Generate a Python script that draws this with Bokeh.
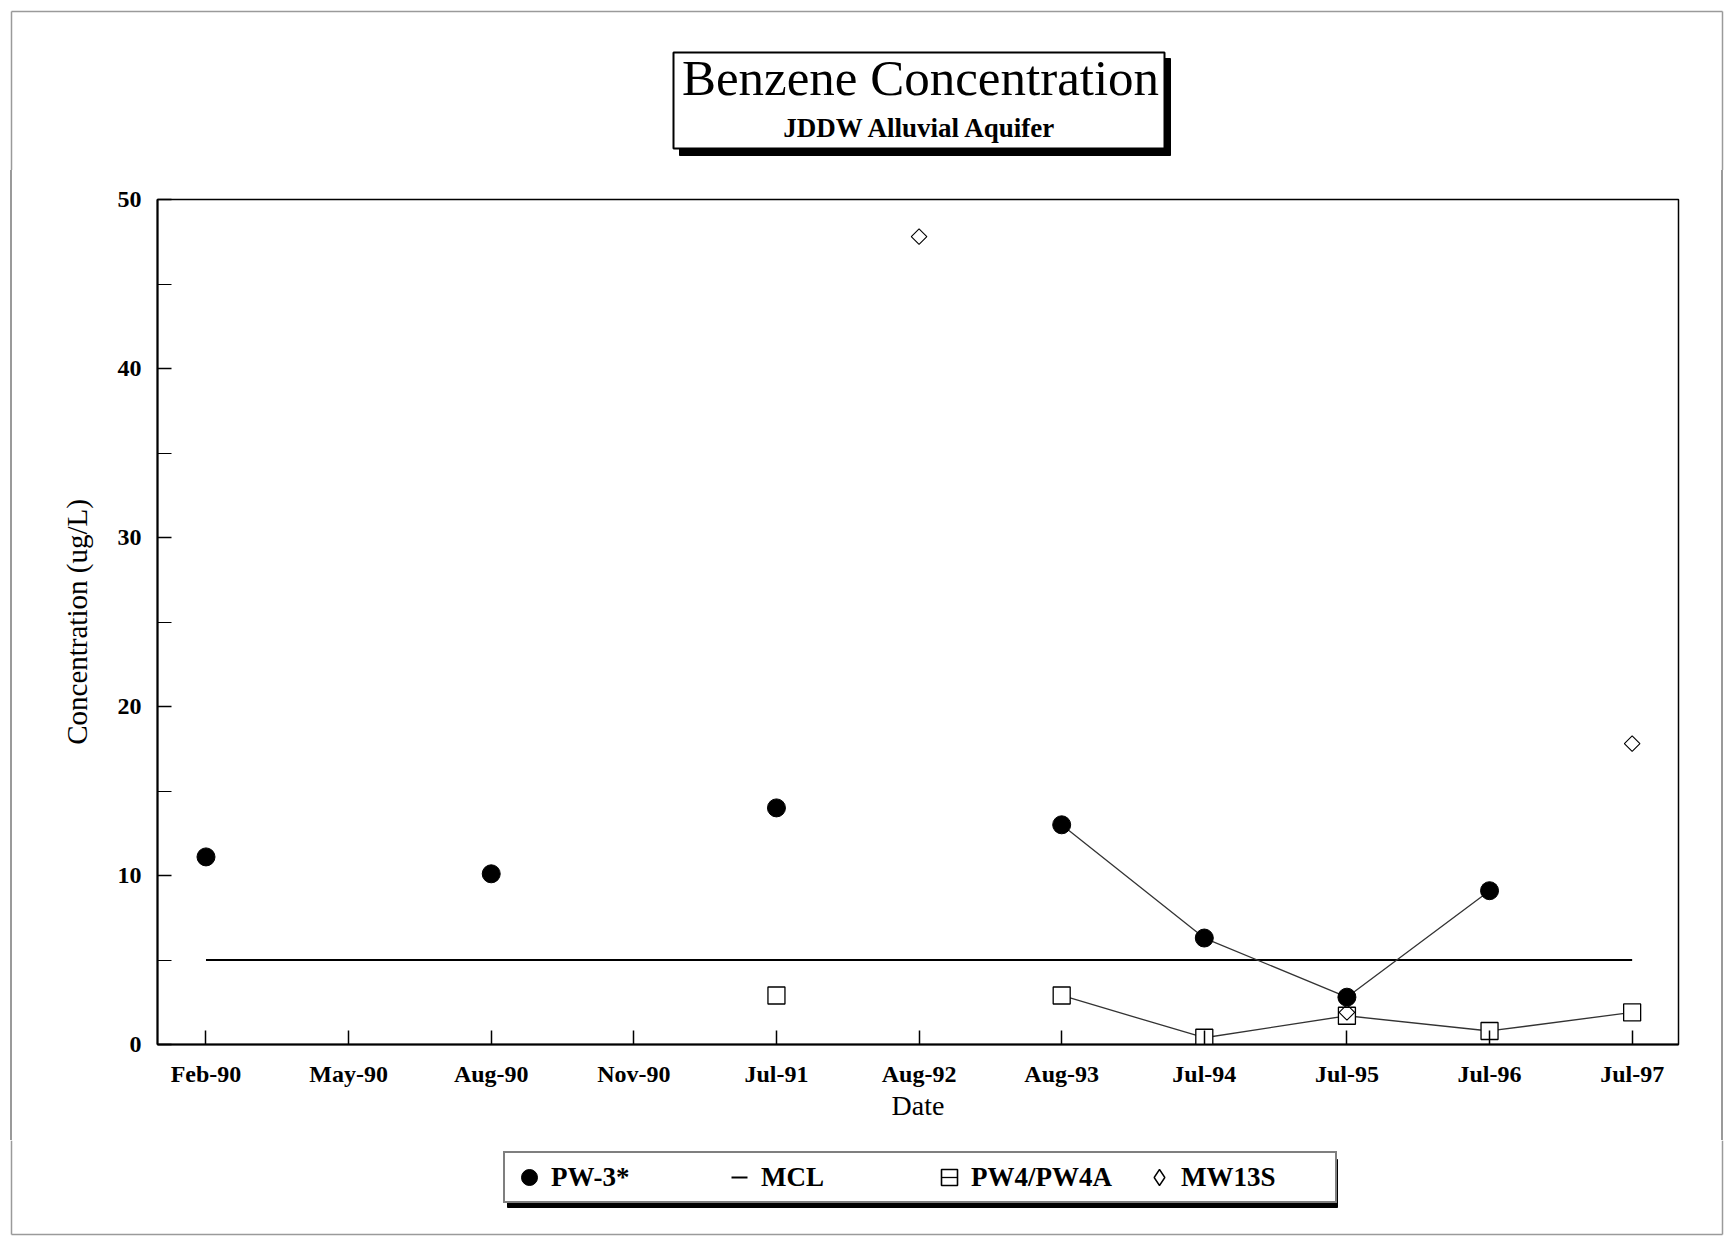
import math
from bokeh.plotting import figure
from bokeh.layouts import column, row
from bokeh.models import Range1d, FixedTicker, Legend, LegendItem, Spacer
from bokeh.core.properties import value
from bokeh.embed import file_html
from bokeh.resources import INLINE

# ---------------- data ----------------
categories = ["Feb-90", "May-90", "Aug-90", "Nov-90", "Jul-91", "Aug-92",
              "Aug-93", "Jul-94", "Jul-95", "Jul-96", "Jul-97"]
y_major_ticks = [0, 10, 20, 30, 40, 50]
y_minor_ticks = [5, 15, 25, 35, 45]

pw3_dates = ["Feb-90", "Aug-90", "Jul-91", "Aug-93", "Jul-94", "Jul-95", "Jul-96"]
pw3_values = [11.1, 10.1, 14.0, 13.0, 6.3, 2.8, 9.1]
pw3_line_dates = ["Aug-93", "Jul-94", "Jul-95", "Jul-96"]

pw4_dates = ["Jul-91", "Aug-93", "Jul-94", "Jul-95", "Jul-96", "Jul-97"]
pw4_values = [2.9, 2.9, 0.4, 1.7, 0.8, 1.9]
pw4_line_dates = ["Aug-93", "Jul-94", "Jul-95", "Jul-96", "Jul-97"]

mw13s_dates = ["Aug-92", "Jul-95", "Jul-97"]
mw13s_values = [47.8, 1.9, 17.8]

mcl_dates = ["Feb-90", "Jul-97"]
mcl_values = [5.0, 5.0]

title_text = "Benzene Concentration"
subtitle_text = "JDDW Alluvial Aquifer"
legend_labels = ["PW-3*", "MCL", "PW4/PW4A", "MW13S"]

FONT = "Liberation Serif"
W = 1724
TOP_H, MAIN_H, BOT_H = 170, 970, 96
STRIP_L, STRIP_R = 20, 24
BORDER = "#9a9a9a"


def xpos(dates):
    return [categories.index(d) for d in dates]


def sub(dates, values, keep):
    lut = dict(zip(dates, values))
    return xpos(keep), [lut[d] for d in keep]


def blank(width, height):
    f = figure(width=width, height=height, output_backend="svg", toolbar_location=None,
               x_range=Range1d(0, width), y_range=Range1d(height, 0),
               x_axis_type=None, y_axis_type=None, min_border=0,
               background_fill_color="white", border_fill_color="white")
    f.grid.visible = False
    f.outline_line_color = None
    return f


def vstrip(width, xline, height):
    grad = ("linear-gradient(to right, transparent {a}px, {c} {a}px, {c} {b}px, "
            "transparent {b}px)").format(a=xline - 0.75, b=xline + 0.75, c=BORDER)
    return Spacer(width=width, height=height,
                  styles={"background": grad, "background-color": "white"})


# ---------------- title strip ----------------
pt = blank(W, TOP_H)
pt.segment(x0=[11, 11, 1722], y0=[11, 11, 11], x1=[1722, 11, 1722], y1=[11, TOP_H, TOP_H],
           line_color=BORDER, line_width=1.5)
pt.quad(left=[679], right=[1170], top=[58], bottom=[155], fill_color="black", line_color="black")
pt.quad(left=[673], right=[1164], top=[52], bottom=[148], fill_color="white",
        line_color="black", line_width=2)
pt.text(x=[920], y=[77], text=[title_text], text_font=value(FONT), text_font_size="51px",
        text_color="black", text_align="center", text_baseline="alphabetic")
pt.text(x=[920], y=[127], text=[subtitle_text], text_font=value(FONT), text_font_size="27px",
        text_font_style="bold", text_color="black", text_align="center",
        text_baseline="alphabetic")

# ---------------- main chart ----------------
p = figure(width=W - STRIP_L - STRIP_R, height=MAIN_H, output_backend="svg",
           toolbar_location=None,
           x_range=Range1d(-0.34, 10.325), y_range=Range1d(0, 50),
           min_border_left=137, min_border_right=22,
           min_border_top=29, min_border_bottom=96,
           background_fill_color="white", border_fill_color="white")
p.grid.visible = False
p.outline_line_color = "black"
p.outline_line_width = 1.5

xa = p.xaxis[0]
xa.ticker = FixedTicker(ticks=list(range(len(categories))), minor_ticks=[])
xa.major_label_overrides = {i: c for i, c in enumerate(categories)}
xa.axis_label = "Date"
ya = p.yaxis[0]
ya.ticker = FixedTicker(ticks=y_major_ticks, minor_ticks=y_minor_ticks)
ya.axis_label = "Concentration (ug/L)"

for ax in (xa, ya):
    ax.axis_line_width = 2
    ax.axis_line_color = "black"
    ax.major_tick_in = 14
    ax.major_tick_out = 0
    ax.major_tick_line_width = 1.5
    ax.minor_tick_in = 14
    ax.minor_tick_out = 0
    ax.minor_tick_line_width = 1.2
    ax.major_label_text_font = FONT
    ax.major_label_text_font_style = "bold"
    ax.major_label_text_font_size = "24px"
    ax.major_label_text_color = "black"
    ax.axis_label_text_font = FONT
    ax.axis_label_text_font_style = "normal"
    ax.axis_label_text_color = "black"
xa.axis_label_text_font_size = "28px"
ya.axis_label_text_font_size = "29px"
xa.major_label_standoff = 16
xa.axis_label_standoff = 0
ya.major_label_standoff = 16
ya.axis_label_standoff = 22

p.line(xpos(mcl_dates), mcl_values, line_color="black", line_width=2)
lx, ly = sub(pw3_dates, pw3_values, pw3_line_dates)
p.line(lx, ly, line_color="#333333", line_width=1.3)
lx, ly = sub(pw4_dates, pw4_values, pw4_line_dates)
p.line(lx, ly, line_color="#333333", line_width=1.3)
p.scatter(xpos(pw4_dates), pw4_values, marker="square", size=17,
          fill_color="white", line_color="black", line_width=1.3)
p.scatter(xpos(mw13s_dates), mw13s_values, marker="square", angle=math.pi / 4,
          size=11, fill_color="white", fill_alpha=0.0, line_color="black", line_width=1.1)
p.scatter(xpos(pw3_dates), pw3_values, marker="circle", size=18,
          fill_color="black", line_color="black")

sl = vstrip(STRIP_L, 11, MAIN_H)
sr = vstrip(STRIP_R, 22, MAIN_H)

# ---------------- legend strip ----------------
pb = blank(W, BOT_H)
pb.segment(x0=[11, 11, 1722], y0=[94, 0, 0], x1=[1722, 11, 1722], y1=[94, 94, 94],
           line_color=BORDER, line_width=1.5)
pb.quad(left=[507], right=[1337], top=[19], bottom=[67], fill_color="black", line_color="black")
nan = [float("nan")]
g_pw3 = pb.scatter(nan, nan, marker="circle", fill_color="black", line_color="black")
g_mcl = pb.scatter(nan, nan, marker="dash", line_color="black", line_width=2)
g_pw4 = pb.scatter(nan, nan, marker="square", fill_color="white",
                   line_color="black", line_width=1.6)
g_pw4d = pb.scatter(nan, nan, marker="dash", line_color="black", line_width=1.3)
g_mw = pb.scatter(nan, nan, marker="diamond", fill_color="white",
                  line_color="black", line_width=1.4)
legend = Legend(items=[
    LegendItem(label=legend_labels[0], renderers=[g_pw3]),
    LegendItem(label=legend_labels[1], renderers=[g_mcl]),
    LegendItem(label=legend_labels[2], renderers=[g_pw4, g_pw4d]),
    LegendItem(label=legend_labels[3], renderers=[g_mw]),
], orientation="horizontal", location=(503, BOT_H - 63),
    padding=4, spacing=18, glyph_width=40, glyph_height=40, label_standoff=2,
    label_width=150, label_height=40, margin=0,
    label_text_font=FONT, label_text_font_style="bold", label_text_font_size="27px",
    label_text_color="black", border_line_color="black", border_line_width=2,
    background_fill_color="white", background_fill_alpha=1.0)
pb.add_layout(legend, "center")

layout = column(pt, row(sl, p, sr, spacing=0), pb, spacing=0)
open("out.html", "w").write(file_html(layout, INLINE))
